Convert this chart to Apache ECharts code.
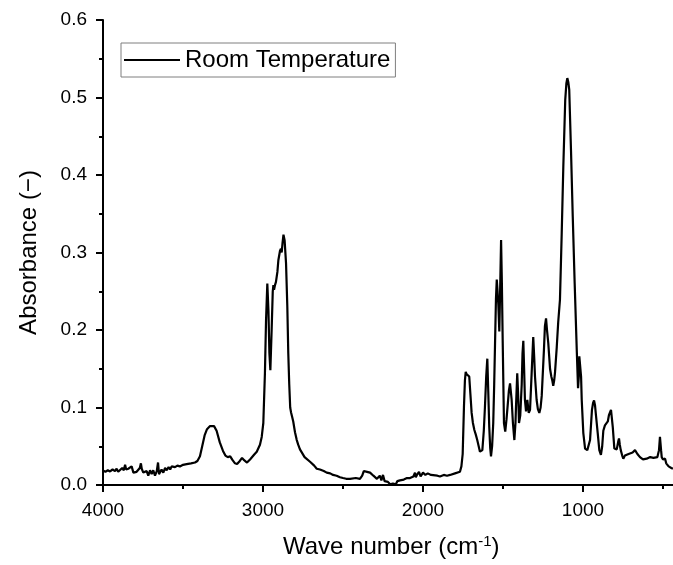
<!DOCTYPE html>
<html>
<head>
<meta charset="utf-8">
<script src="https://cdn.jsdelivr.net/npm/echarts@6/dist/echarts.min.js"></script>
<style>
  html, body { margin: 0; padding: 0; background: #fff; }
  #chart { width: 673px; height: 565px; }
</style>
</head>
<body>
<div id="chart"></div>
<script>
// spectrum (wave number in cm-1, absorbance)
const waveNumber = [
  3998, 3985, 3970, 3956, 3940, 3925, 3915, 3905, 3894, 3880, 3870, 3862, 3855, 3842, 3830, 3821,
  3810, 3800, 3790, 3779, 3770, 3763, 3758, 3748, 3737, 3727, 3717, 3706, 3696, 3686, 3675, 3664,
  3656, 3650, 3644, 3634, 3623, 3612, 3602, 3590, 3580, 3571, 3560, 3550, 3535, 3519, 3500, 3477,
  3450, 3425, 3410, 3394, 3380, 3365, 3350, 3331, 3306, 3290, 3270, 3250, 3235, 3220, 3205, 3190,
  3175, 3162, 3145, 3131, 3118, 3100, 3081, 3056, 3039, 3019, 3008, 2998, 2988, 2981, 2973, 2966,
  2960, 2954, 2946, 2939, 2935, 2931, 2925, 2919, 2910, 2904, 2894, 2888, 2883, 2878, 2872, 2865,
  2856, 2848, 2842, 2836, 2830, 2825, 2818, 2811, 2800, 2789, 2780, 2769, 2740, 2706, 2680, 2664,
  2644, 2620, 2602, 2580, 2562, 2540, 2519, 2500, 2480, 2456, 2420, 2394, 2380, 2370, 2362, 2350,
  2331, 2310, 2300, 2288, 2270, 2260, 2250, 2240, 2228, 2219, 2205, 2188, 2170, 2160, 2144, 2120,
  2100, 2081, 2060, 2050, 2045, 2038, 2025, 2015, 2000, 1985, 1970, 1950, 1938, 1910, 1894, 1870,
  1850, 1831, 1800, 1769, 1760, 1752, 1744, 1738, 1733, 1728, 1723, 1716, 1711, 1704, 1696, 1688,
  1679, 1670, 1661, 1652, 1644, 1636, 1629, 1620, 1613, 1605, 1598, 1592, 1586, 1580, 1575, 1568,
  1561, 1555, 1550, 1544, 1539, 1534, 1529, 1523, 1518, 1512, 1507, 1502, 1494, 1486, 1478, 1471,
  1463, 1456, 1446, 1438, 1429, 1422, 1419, 1411, 1405, 1400, 1392, 1383, 1378, 1373, 1368, 1363,
  1356, 1348, 1339, 1331, 1321, 1311, 1305, 1300, 1290, 1282, 1273, 1265, 1258, 1244, 1238, 1231,
  1225, 1217, 1206, 1198, 1192, 1186, 1180, 1175, 1164, 1155, 1144, 1133, 1123, 1111, 1104, 1098,
  1092, 1086, 1075, 1064, 1052, 1039, 1031, 1026, 1023, 1017, 1012, 1008, 998, 987, 973, 956,
  944, 937, 931, 925, 919, 908, 898, 888, 880, 873, 863, 852, 845, 838, 825, 814,
  804, 795, 789, 780, 775, 770, 764, 755, 748, 738, 727, 715, 706, 690, 675, 660,
  644, 625, 602, 580, 560, 550, 535, 525, 519, 512, 508, 500, 487, 480, 477, 470,
  465, 456, 448, 438
];
const absorbance = [
  0.0185, 0.017, 0.019, 0.0175, 0.020, 0.018, 0.021, 0.017, 0.019, 0.022, 0.019, 0.026, 0.020, 0.021, 0.019, 0.024,
  0.016, 0.014, 0.017, 0.016, 0.022, 0.028, 0.021, 0.016, 0.015, 0.018, 0.012, 0.019, 0.014, 0.019, 0.012, 0.018,
  0.029, 0.014, 0.012, 0.020, 0.016, 0.022, 0.019, 0.023, 0.020, 0.024, 0.022, 0.023, 0.025, 0.024, 0.026, 0.027,
  0.028, 0.029, 0.031, 0.037, 0.050, 0.064, 0.072, 0.076, 0.076, 0.070, 0.055, 0.044, 0.038, 0.036, 0.037, 0.032,
  0.028, 0.027, 0.031, 0.035, 0.032, 0.029, 0.033, 0.039, 0.043, 0.052, 0.062, 0.080, 0.144, 0.213, 0.260, 0.225,
  0.170, 0.148, 0.200, 0.250, 0.258, 0.252, 0.258, 0.262, 0.275, 0.290, 0.302, 0.305, 0.300, 0.312, 0.323, 0.316,
  0.286, 0.230, 0.170, 0.130, 0.100, 0.094, 0.088, 0.082, 0.068, 0.058, 0.052, 0.046, 0.036, 0.030, 0.025, 0.021,
  0.020, 0.018, 0.016, 0.015, 0.013, 0.012, 0.010, 0.009, 0.008, 0.008, 0.009, 0.008, 0.012, 0.018, 0.020, 0.017,
  0.016, 0.012, 0.011, 0.008, 0.012, 0.006, 0.013, 0.005, 0.006, 0.004, 0.001, 0.002, 0.001, 0.005, 0.006, 0.007,
  0.009, 0.009, 0.011, 0.016, 0.010, 0.013, 0.017, 0.011, 0.016, 0.013, 0.015, 0.013, 0.013, 0.012, 0.011, 0.013,
  0.012, 0.013, 0.015, 0.017, 0.024, 0.040, 0.101, 0.135, 0.146, 0.143, 0.141, 0.143, 0.140, 0.118, 0.093, 0.080,
  0.071, 0.065, 0.058, 0.050, 0.043, 0.041, 0.045, 0.070, 0.100, 0.140, 0.163, 0.120, 0.075, 0.048, 0.037, 0.050,
  0.080, 0.130, 0.180, 0.240, 0.265, 0.250, 0.232, 0.198, 0.250, 0.316, 0.260, 0.187, 0.080, 0.069, 0.085, 0.102,
  0.122, 0.131, 0.110, 0.080, 0.058, 0.080, 0.100, 0.144, 0.115, 0.080, 0.090, 0.130, 0.170, 0.186, 0.150, 0.110,
  0.095, 0.110, 0.093, 0.097, 0.144, 0.191, 0.165, 0.140, 0.110, 0.098, 0.093, 0.100, 0.115, 0.175, 0.205, 0.215,
  0.200, 0.183, 0.150, 0.140, 0.135, 0.128, 0.135, 0.145, 0.178, 0.210, 0.239, 0.325, 0.411, 0.497, 0.518, 0.525,
  0.520, 0.510, 0.432, 0.346, 0.260, 0.174, 0.125, 0.140, 0.166, 0.168, 0.140, 0.110, 0.067, 0.047, 0.045, 0.058,
  0.097, 0.106, 0.109, 0.103, 0.090, 0.067, 0.045, 0.039, 0.050, 0.070, 0.077, 0.076, 0.082, 0.090, 0.097, 0.075,
  0.047, 0.045, 0.046, 0.056, 0.060, 0.052, 0.045, 0.038, 0.034, 0.038, 0.036, 0.040, 0.038, 0.042, 0.045, 0.040,
  0.036, 0.033, 0.034, 0.036, 0.035, 0.035, 0.036, 0.045, 0.062, 0.045, 0.036, 0.033, 0.034, 0.028, 0.026, 0.030,
  0.024, 0.026, 0.022, 0.021
];
const seriesName = 'Room Temperature';
const xTicks = [0, 4000, 1000];   // min, max, interval
const yTicks = [0, 0.6, 0.1];

const font = "'Liberation Sans', Arial, sans-serif";
const chart = echarts.init(document.getElementById('chart'));

const points = waveNumber.map(function (w, i) {
  return [w, absorbance[i]];
});

const option = {
  animation: false,
  textStyle: { fontFamily: font },
  grid: {
    left: 103,
    top: 20,
    height: 465,
    width: 640,   // axis runs on to 0, past the right edge of the canvas
    containLabel: false,
    outerBoundsMode: 'none'
  },
  legend: {
    left: 121,
    top: 43,
    padding: [5, 5, 5, 3],
    borderColor: '#7f7f7f',
    borderWidth: 1,
    borderRadius: 0,
    icon: 'rect',
    itemWidth: 56,
    itemHeight: 2,
    textStyle: { fontSize: 24, color: '#000', fontFamily: font },
    data: [seriesName]
  },
  xAxis: {
    type: 'value',
    inverse: true,
    min: xTicks[0],
    max: xTicks[1],
    interval: xTicks[2],
    axisLine: { show: true, onZero: false, lineStyle: { color: '#000', width: 2 } },
    axisTick: { show: true, length: 7, lineStyle: { color: '#000', width: 2 } },
    minorTick: { show: true, splitNumber: 2, length: 4, lineStyle: { color: '#000', width: 2 } },
    splitLine: { show: false },
    axisLabel: {
      margin: 16,
      fontSize: 19,
      color: '#000',
      fontFamily: font,
      formatter: function (v) { return v === 0 ? '' : String(v) }
    }
  },
  yAxis: {
    type: 'value',
    min: yTicks[0],
    max: yTicks[1],
    interval: yTicks[2],
    name: 'Absorbance (\u2212)',
    nameLocation: 'middle',
    nameGap: 62,
    nameTextStyle: { fontSize: 24, color: '#000', fontFamily: font },
    axisLine: { show: true, onZero: false, lineStyle: { color: '#000', width: 2 } },
    axisTick: { show: true, length: 7, lineStyle: { color: '#000', width: 2 } },
    minorTick: { show: true, splitNumber: 2, length: 4, lineStyle: { color: '#000', width: 2 } },
    splitLine: { show: false },
    axisLabel: {
      margin: 16,
      fontSize: 19,
      color: '#000',
      fontFamily: font,
      formatter: function (v) { return v.toFixed(1) }
    }
  },
  graphic: [
    {
      type: 'text',
      left: 283,
      top: 534,
      style: {
        text: 'Wave number (cm{sup|-1})',
        fontSize: 24,
        fill: '#000',
        fontFamily: font,
        rich: {
          sup: { fontSize: 15, verticalAlign: 'top', padding: [0, 0, 12, 0], fontFamily: font }
        }
      }
    }
  ],
  series: [
    {
      name: seriesName,
      type: 'line',
      data: points,
      symbol: 'none',
      smooth: false,
      lineStyle: { color: '#000', width: 2.2 },
      itemStyle: { color: '#000' }
    }
  ]
};

chart.setOption(option);
</script>
</body>
</html>
